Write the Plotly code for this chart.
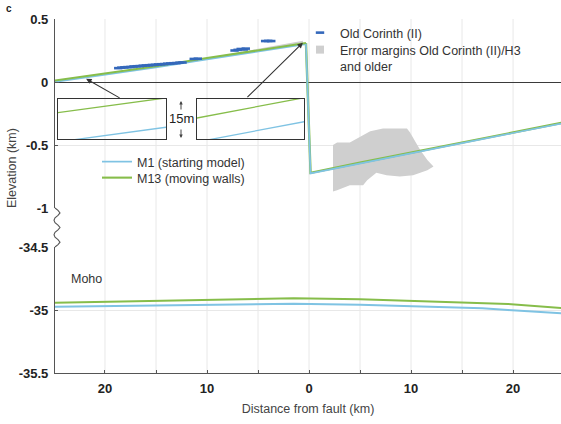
import plotly.graph_objects as go

# ---------------- data ----------------
# distance from fault (km): negative = footwall (left), positive = hanging wall (right)
fw_x = [-25, -20, -15, -10, -5, -2, -0.3]
m1_fw = [0.000, 0.055, 0.115, 0.180, 0.243, 0.281, 0.300]
m13_fw = [0.011, 0.066, 0.125, 0.190, 0.252, 0.290, 0.309]

hw_x = [0.15, 5, 10, 15, 20, 25]
m1_hw = [-0.725, -0.645, -0.565, -0.485, -0.405, -0.325]
m13_hw = [-0.721, -0.641, -0.561, -0.481, -0.401, -0.321]

moho_x = [-25, -15, -5, -1.5, 5, 9, 10, 17, 19.5, 25]
m1_moho = [-34.975, -34.966, -34.953, -34.950, -34.958, -34.966, -34.968, -34.986, -35.000, -35.027]
m13_moho = [-34.942, -34.927, -34.913, -34.907, -34.915, -34.926, -34.931, -34.947, -34.952, -34.985]

oc_x = [-18.7, -18.4, -18.1, -17.8, -17.5, -17.2, -16.9, -16.6, -16.3, -16.0, -15.7,
        -15.4, -15.1, -14.8, -14.5, -14.2, -13.9, -13.6, -13.3, -13.0, -12.7, -12.4,
        -11.3, -10.9, -7.3, -7.0, -6.7, -6.4, -6.2, -4.3, -4.0, -3.7]
oc_y = [0.110, 0.114, 0.116, 0.118, 0.119, 0.123, 0.125, 0.126, 0.129, 0.131, 0.133,
        0.135, 0.136, 0.139, 0.141, 0.142, 0.145, 0.147, 0.149, 0.150, 0.153, 0.155,
        0.183, 0.185, 0.250, 0.255, 0.262, 0.258, 0.265, 0.325, 0.326, 0.325]

err_fw_x = [-9.7, -7, -4, -1.5, -0.6, -0.6, -1.5, -4, -7, -9.7]
err_fw_y = [0.195, 0.235, 0.278, 0.315, 0.328, 0.312, 0.298, 0.262, 0.222, 0.186]
err_hw_x = [2.35, 2.75, 4.0, 5.7, 6.0, 7.25, 8.9, 9.6, 9.9, 10.9, 11.6, 12.2, 11.6,
            10.2, 8.9, 7.6, 6.6, 5.7, 5.3, 4.0, 2.75, 2.35]
err_hw_y = [-0.50, -0.48, -0.48, -0.40, -0.39, -0.37, -0.37, -0.37, -0.40, -0.54, -0.62,
            -0.67, -0.70, -0.74, -0.75, -0.74, -0.72, -0.78, -0.82, -0.82, -0.86, -0.87]

x_tickvals = [-20, -10, 0, 10, 20]
x_ticktext = ["20", "10", "0", "10", "20"]
y_top_ticks = [-1, -0.5, 0, 0.5]
y_top_text = ["-1", "-0.5", "0", "0.5"]
y_bot_ticks = [-35.5, -35, -34.5]
y_bot_text = ["-35.5", "-35", "-34.5"]

# ---------------- styling ----------------
C_M1 = "#7fc3e3"
C_M13 = "#86bd4a"
C_OC = "#3468bb"
C_ERR = "#cfcfcf"
FONT = "Liberation Sans, Arial, Helvetica, sans-serif"
W, H = 561, 424
ML, MR, MT, MB = 55, 0, 19, 51
PW, PH = W - ML - MR, H - MT - MB


def px_x(p):
    return (p - ML) / PW


def px_y(p):
    return (H - MB - p) / PH


top_dom = [px_y(208), 1.0]
bot_dom = [0.0, px_y(247)]

fig = go.Figure()

# error margins
fig.add_trace(go.Scatter(
    x=err_fw_x + [None] + err_hw_x, y=err_fw_y + [None] + err_hw_y,
    xaxis="x", yaxis="y2", mode="lines", fill="toself", fillcolor=C_ERR,
    line=dict(width=0, color=C_ERR), showlegend=False, hoverinfo="skip"))
# legend entry for the error margins (legend-only)
fig.add_trace(go.Scatter(
    x=[None], y=[None], xaxis="x", yaxis="y2", mode="markers",
    marker=dict(symbol="square", size=8, color=C_ERR),
    name="Error margins Old Corinth (II)/H3<br>and older", legend="legend4"))

m_x = fw_x + hw_x
m1_y = m1_fw + m1_hw
m13_y = m13_fw + m13_hw

# M13: fault + hanging wall part (under M1)
fig.add_trace(go.Scatter(x=[fw_x[-1]] + hw_x, y=[m13_fw[-1]] + m13_hw, xaxis="x", yaxis="y2",
                         mode="lines", line=dict(color=C_M13, width=2.4),
                         legendgroup="m13", showlegend=False))
# M1 complete profile
fig.add_trace(go.Scatter(x=m_x, y=m1_y, xaxis="x", yaxis="y2", mode="lines",
                         line=dict(color=C_M1, width=1.7), name="M1 (starting model)",
                         legend="legend2"))
# M13: footwall part (on top)
fig.add_trace(go.Scatter(x=fw_x, y=m13_fw, xaxis="x", yaxis="y2", mode="lines",
                         line=dict(color=C_M13, width=2.1), name="M13 (moving walls)",
                         legendgroup="m13", legend="legend3"))

fig.add_trace(go.Scatter(x=oc_x, y=oc_y, xaxis="x", yaxis="y2", mode="markers",
                         marker=dict(symbol="line-ew", size=6,
                                     line=dict(color=C_OC, width=2.6)),
                         name="Old Corinth (II)", legend="legend"))

# Moho
fig.add_trace(go.Scatter(x=moho_x, y=m1_moho, xaxis="x", yaxis="y", mode="lines",
                         line=dict(color=C_M1, width=2), showlegend=False))
fig.add_trace(go.Scatter(x=moho_x, y=m13_moho, xaxis="x", yaxis="y", mode="lines",
                         line=dict(color=C_M13, width=2), showlegend=False))

# insets (same data, zoomed)
for xa, ya in (("x3", "y3"), ("x4", "y4")):
    fig.add_trace(go.Scatter(x=m_x, y=m1_y, xaxis=xa, yaxis=ya, mode="lines",
                             line=dict(color=C_M1, width=1.3), showlegend=False))
    fig.add_trace(go.Scatter(x=m_x, y=m13_y, xaxis=xa, yaxis=ya, mode="lines",
                             line=dict(color=C_M13, width=1.3), showlegend=False))

tickfont = dict(family=FONT, size=13, color="#222", weight="bold")
inset_ax = dict(showline=True, mirror=True, linecolor="#333", linewidth=1,
                showticklabels=False, ticks="", showgrid=False, zeroline=False,
                automargin=False)
leg_font = dict(family=FONT, size=12.5, color="#333")


def leg(xp, yp):
    return dict(x=px_x(xp), y=px_y(yp), xanchor="left", yanchor="middle",
                bgcolor="rgba(0,0,0,0)", valign="top", font=leg_font)


fig.update_layout(
    width=W, height=H, margin=dict(l=ML, r=MR, t=MT, b=MB),
    paper_bgcolor="white", plot_bgcolor="rgba(0,0,0,0)",
    font=dict(family=FONT, color="#333"),
    xaxis=dict(domain=[0, 1], range=[-24.9, 24.7], anchor="y", automargin=False,
               tickvals=x_tickvals, ticktext=x_ticktext, tickfont=tickfont,
               ticks="inside", ticklen=3, tickcolor="#555",
               minor=dict(tickvals=[-15, -5, 5, 15], ticks="inside", ticklen=3, tickcolor="#555"),
               showline=True, linecolor="#555", linewidth=1.2,
               showgrid=False, zeroline=False, ticklabelstandoff=3,
               title=dict(text="Distance from fault (km)",
                          font=dict(family=FONT, size=12.5, color="#444"), standoff=9)),
    yaxis=dict(domain=bot_dom, range=[-35.5, -34.5], anchor="x", automargin=False,
               tickvals=y_bot_ticks, ticktext=y_bot_text, tickfont=tickfont,
               ticks="inside", ticklen=3, tickcolor="#555",
               showline=True, linecolor="#555", linewidth=1.2,
               showgrid=True, gridcolor="#e8e8e8", zeroline=False, ticklabelstandoff=3),
    yaxis2=dict(domain=top_dom, range=[-1, 0.5], anchor="x", automargin=False,
                tickvals=y_top_ticks, ticktext=y_top_text, tickfont=tickfont,
                ticks="inside", ticklen=3, tickcolor="#555",
                showline=True, linecolor="#555", linewidth=1.2,
                showgrid=True, gridcolor="#e8e8e8",
                zeroline=True, zerolinecolor="#3a3a3a", zerolinewidth=1.2,
                ticklabelstandoff=3),
    xaxis3=dict(domain=[px_x(58), px_x(166)], range=[-22.1, -21.6], anchor="y3", **inset_ax),
    yaxis3=dict(domain=[px_y(139), px_y(99)], range=[0.0330, 0.0480], anchor="x3", **inset_ax),
    xaxis4=dict(domain=[px_x(197), px_x(304)], range=[-1.0, -0.32], anchor="y4", **inset_ax),
    yaxis4=dict(domain=[px_y(139), px_y(99)], range=[0.2933, 0.3083], anchor="x4", **inset_ax),
    legend=leg(300, 33),
    legend4=leg(300, 58),
    legend2=leg(97, 162),
    legend3=leg(97, 178),
    showlegend=True,
)

# vertical grid lines spanning both panels (through the axis break)
for gx in [-20, -15, -10, -5, 0, 5, 10, 15, 20]:
    fig.add_shape(type="line", xref="x", yref="paper", x0=gx, x1=gx, y0=0, y1=1,
                  line=dict(color="#e8e8e8", width=1), layer="below")

# axis-break zigzag
offs = [0, 3, 5, 3, 0, -1, 0, 3, 5, 3, 0, -1, 0, 3, 5, 3, 0]
n = len(offs) - 1
pts = []
for i, o in enumerate(offs):
    py = 208 + (247 - 208) * i / n
    pts.append((px_x(55 + o), px_y(py)))
path = "M " + " L ".join(f"{a:.5f},{b:.5f}" for a, b in pts)
fig.add_shape(type="path", xref="paper", yref="paper", path=path,
              line=dict(color="#555", width=1.1))

# annotations
ann = [
    dict(text="Elevation (km)", xref="paper", yref="paper", x=px_x(12), y=px_y(168),
         xanchor="center", yanchor="middle",
         textangle=-90, showarrow=False, font=dict(size=12.5, color="#444")),
    dict(text="Moho", xref="paper", yref="paper", x=px_x(69), y=px_y(279),
         xanchor="left", yanchor="middle", showarrow=False, font=dict(size=12.5, color="#333")),
    dict(text="15m", xref="paper", yref="paper", x=px_x(181), y=px_y(119),
         xanchor="center", yanchor="middle",
         showarrow=False, font=dict(size=13, color="#222")),
    dict(text="", xref="paper", yref="paper", x=px_x(181), y=px_y(101), ax=0, ay=10,
         showarrow=True, arrowhead=2, arrowsize=0.7, arrowwidth=1, arrowcolor="#444"),
    dict(text="", xref="paper", yref="paper", x=px_x(181), y=px_y(138), ax=0, ay=-10,
         showarrow=True, arrowhead=2, arrowsize=0.7, arrowwidth=1, arrowcolor="#444"),
    dict(text="", xref="x", yref="y2", x=-21.85, y=0.026, ax=35, ay=20,
         showarrow=True, arrowhead=2, arrowsize=1, arrowwidth=1.1, arrowcolor="#333"),
    dict(text="", xref="x", yref="y2", x=-0.6, y=0.312, ax=-57, ay=56,
         showarrow=True, arrowhead=2, arrowsize=1, arrowwidth=1.1, arrowcolor="#333"),
    dict(text="<b>c</b>", xref="paper", yref="paper", x=px_x(4), y=px_y(1),
         xanchor="left", showarrow=False, font=dict(size=10, color="#222")),
]
fig.update_layout(annotations=ann)

fig.write_html("out.html", config={"displayModeBar": False},
               post_script="document.body.style.margin='0';document.body.style.padding='0';")
